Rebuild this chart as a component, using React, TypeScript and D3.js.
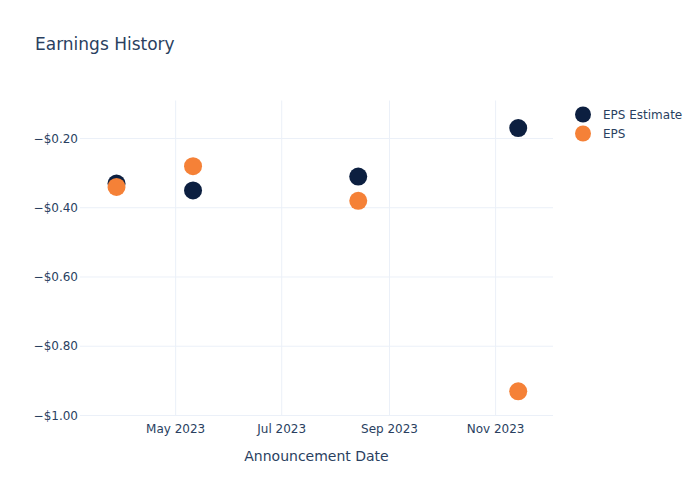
import React from "react";
import * as d3 from "d3";

const dates = ["2023-03-28", "2023-05-11", "2023-08-14", "2023-11-14"];
const epsEstimate = [-0.33, -0.35, -0.31, -0.17];
const epsActual = [-0.34, -0.28, -0.38, -0.93];
const yTicks = [-0.2, -0.4, -0.6, -0.8, -1.0];
const xTicks = ["2023-05-01", "2023-07-01", "2023-09-01", "2023-11-01"];
const seriesNames = ["EPS Estimate", "EPS"];
const seriesColors = ["#0c1f40", "#f58137"];

const W = 700, H = 500;
const L = 80, R = 553, T = 100.5, B = 415.5;
const font = '"DejaVu Sans", verdana, arial, sans-serif';
const textColor = "#2a3f5f";

export default function App() {
  const parse = d3.utcParse("%Y-%m-%d");
  const x = d3.scaleUtc()
    .domain([parse("2023-03-07")!, parse("2023-12-04")!])
    .range([L, R]);
  const y = d3.scaleLinear().domain([-1.0, -0.0903]).range([B, T]);
  const fmtX = d3.utcFormat("%b %Y");
  const fmtY = (v: number) => "\u2212$" + Math.abs(v).toFixed(2);
  const series = [epsEstimate, epsActual];

  return (
    <svg width={W} height={H} style={{ position: "absolute", left: 0, top: 0, background: "#fff" }} fontFamily={font}>
      <rect x={0} y={0} width={W} height={H} fill="#fff" />
      {xTicks.map((t) => (
        <line key={t} x1={x(parse(t)!)} x2={x(parse(t)!)} y1={T} y2={B} stroke="#ebf0f8" strokeWidth={1} />
      ))}
      {yTicks.map((t) => (
        <line key={t} x1={L} x2={R} y1={y(t)} y2={y(t)} stroke="#ebf0f8" strokeWidth={1} />
      ))}
      {yTicks.map((t) => (
        <text key={t} x={L - 2} y={y(t)} dy="0.35em" textAnchor="end" fontSize={12} fill={textColor}>
          {fmtY(t)}
        </text>
      ))}
      {xTicks.map((t) => (
        <text key={t} x={x(parse(t)!)} y={433} textAnchor="middle" fontSize={12} fill={textColor}>
          {fmtX(parse(t)!)}
        </text>
      ))}
      <text x={(L + R) / 2} y={461} textAnchor="middle" fontSize={14} fill={textColor}>
        Announcement Date
      </text>
      <text x={35} y={50} fontSize={17} fill={textColor}>
        Earnings History
      </text>
      {series.map((vals, si) =>
        vals.map((v, i) => (
          <circle key={si + "-" + i} cx={x(parse(dates[i])!)} cy={y(v)} r={9} fill={seriesColors[si]} />
        ))
      )}
      {seriesNames.map((n, i) => (
        <g key={n} transform={`translate(583, ${114.5 + i * 19})`}>
          <circle cx={0} cy={0} r={8} fill={seriesColors[i]} />
          <text x={20} y={0} dy="0.35em" fontSize={12} fill={textColor}>
            {n}
          </text>
        </g>
      ))}
    </svg>
  );
}
